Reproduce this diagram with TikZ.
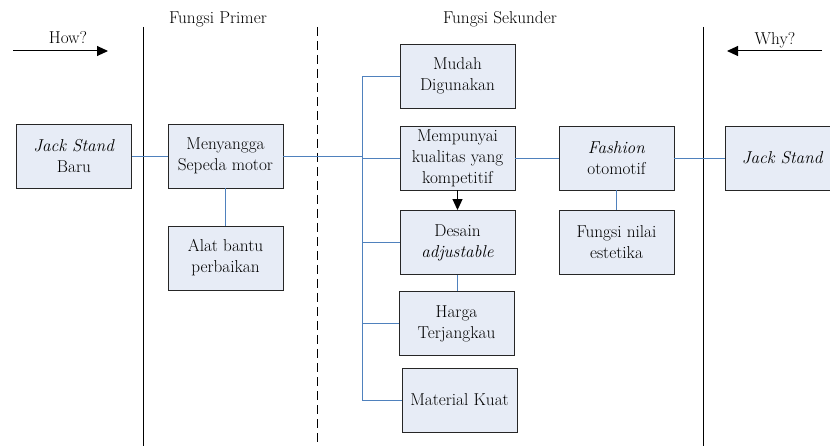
\documentclass[tikz,border=0pt]{standalone}
\usetikzlibrary{arrows.meta}
\definecolor{boxfill}{RGB}{231,236,246}
\definecolor{linkblue}{RGB}{79,129,189}
\tikzset{
  fungsi/.style={draw=black!85, line width=0.9pt, fill=boxfill, minimum width=115pt,
    minimum height=64pt, align=center, inner sep=0pt, font=\fontsize{17.2}{21}\selectfont},
  judul/.style={inner sep=0pt, anchor=base, font=\fontsize{17.2}{21}\selectfont},
  link/.style={draw=linkblue, line width=0.9pt},
  batas/.style={draw=black, line width=1pt},
  panah/.style={-{Triangle[length=11pt,width=10pt]}, line width=1pt},
}
\begin{document}
\begin{tikzpicture}[x=1pt,y=-1pt]
  \useasboundingbox (0,0) rectangle (830,446);
  \clip (0,0) rectangle (830,446);

  % column borders
  \draw[batas] (143,27) -- (143,446);
  \draw[batas, dash pattern=on 9pt off 5pt] (317,27) -- (317,446);
  \draw[batas] (703,27) -- (703,446);

  % headings
  \node[judul] (how) at (68,44) {How?};
  \node[judul] (primer) at (218,24) {Fungsi Primer};
  \node[judul] (sekunder) at (500,24) {Fungsi Sekunder};
  \node[judul] (why) at (775,45) {Why?};
  \coordinate (howA) at (13,51);
  \coordinate (howB) at (108,51);
  \coordinate (whyA) at (822,51);
  \coordinate (whyB) at (727,51);
  \draw[panah] (howA) -- (howB);
  \draw[panah] (whyA) -- (whyB);

  % boxes
  \node[fungsi] (baru) at (74,156) {\textit{Jack Stand}\\Baru};
  \node[fungsi] (sangga) at (225.5,156) {Menyangga\\Sepeda motor};
  \node[fungsi] (alat) at (225.5,258) {Alat bantu\\perbaikan};
  \node[fungsi] (mudah) at (457.5,76) {Mudah\\Digunakan};
  \node[fungsi] (kualitas) at (457.5,158) {Mempunyai\\kualitas yang\\kompetitif};
  \node[fungsi] (desain) at (457.5,242.5) {Desain\\\textit{adjustable}};
  \node[fungsi] (harga) at (456.5,323.5) {Harga\\Terjangkau};
  \node[fungsi] (material) at (459.5,400) {Material Kuat};
  \node[fungsi] (fashion) at (616.5,158) {\textit{Fashion}\\otomotif};
  \node[fungsi] (estetika) at (616.5,242.5) {Fungsi nilai\\estetika};
  \node[fungsi] (jack) at (782.5,158) {\textit{Jack Stand}};

  % links
  \coordinate (cabang) at (362,0);
  \draw[link] (baru.east) -- (sangga.west);
  \draw[link] (sangga.south) -- (alat.north);
  \draw[link] (sangga.east) -- (sangga.east -| cabang);
  \draw[link] (mudah.west) -- (mudah.west -| cabang)
    -- (material.west -| cabang) -- (material.west); % trunk
  \draw[link] (kualitas.west -| cabang) -- (kualitas.west);
  \draw[link] (desain.west -| cabang) -- (desain.west);
  \draw[link] (harga.west -| cabang) -- (harga.west);
  \draw[link] (desain.south) -- (desain.south |- harga.north);
  \draw[link] (kualitas.east) -- (fashion.west);
  \draw[link] (fashion.east) -- (jack.west);
  \draw[link] (fashion.south) -- (estetika.north);
  \draw[panah] (kualitas.south) -- (desain.north);
\end{tikzpicture}
\end{document}
